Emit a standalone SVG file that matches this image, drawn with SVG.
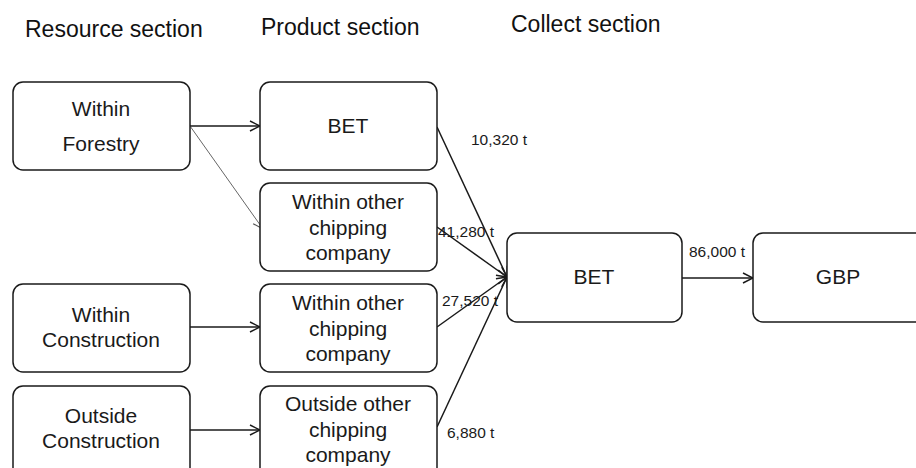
<svg xmlns="http://www.w3.org/2000/svg" width="916" height="468" viewBox="0 0 916 468">
<defs>
<style>
.box{fill:#fff;stroke:#1a1a1a;stroke-width:1.5}
.t{font-family:"Liberation Sans",Arial,sans-serif;font-size:21px;fill:#1a1a1a;text-anchor:middle}
.h{font-family:"Liberation Sans",Arial,sans-serif;font-size:23px;fill:#111}
.l{font-family:"Liberation Sans",Arial,sans-serif;font-size:15.5px;fill:#1a1a1a}
.c{stroke:#1a1a1a;stroke-width:1.5;fill:none}
.thin{stroke:#666;stroke-width:1;fill:none}
</style>
<marker id="ar" viewBox="0 0 12 12" refX="11" refY="6" markerWidth="12" markerHeight="12" markerUnits="userSpaceOnUse" orient="auto">
<path d="M1,1 L11,6 L1,11" fill="none" stroke="#1a1a1a" stroke-width="1.5"/>
</marker>
<marker id="ar2" viewBox="0 0 12 12" refX="11" refY="6" markerWidth="12" markerHeight="12" markerUnits="userSpaceOnUse" orient="auto">
<path d="M1,1 L11,6 L1,11" fill="none" stroke="#555" stroke-width="1.2"/>
</marker>
</defs>
<rect width="916" height="468" fill="#fff"/>
<g id="headers">
<text class="h" x="25" y="37">Resource section</text>
<text class="h" x="261" y="35">Product section</text>
<text class="h" x="511" y="32">Collect section</text>
</g>
<g id="connectors">
<line class="c" x1="190" y1="126" x2="260" y2="126" marker-end="url(#ar)"/>
<line class="thin" x1="190" y1="126" x2="263" y2="229" marker-end="url(#ar2)"/>
<line class="c" x1="190" y1="327" x2="260" y2="327" marker-end="url(#ar)"/>
<line class="c" x1="190" y1="430" x2="260" y2="430" marker-end="url(#ar)"/>
<line class="c" x1="437" y1="127" x2="507" y2="277" marker-end="url(#ar)"/>
<line class="c" x1="437" y1="227" x2="507" y2="277" marker-end="url(#ar)"/>
<line class="c" x1="437" y1="327" x2="507" y2="277" marker-end="url(#ar)"/>
<line class="c" x1="437" y1="427" x2="507" y2="277" marker-end="url(#ar)"/>
<line class="c" x1="682" y1="278" x2="753" y2="278" marker-end="url(#ar)"/>
<text class="l" x="471" y="145">10,320 t</text>
<text class="l" x="438" y="237">41,280 t</text>
<text class="l" x="442" y="306">27,520 t</text>
<text class="l" x="447" y="438">6,880 t</text>
<text class="l" x="689" y="257">86,000 t</text>
</g>
<g id="within-forestry">
<rect class="box" x="13" y="82" width="177" height="88" rx="10"/>
<text class="t" x="101" y="116">Within</text>
<text class="t" x="101" y="151">Forestry</text>
</g>
<g id="within-construction">
<rect class="box" x="13" y="284" width="177" height="88" rx="10"/>
<text class="t" x="101" y="322">Within</text>
<text class="t" x="101" y="347">Construction</text>
</g>
<g id="outside-construction">
<rect class="box" x="13" y="386" width="177" height="95" rx="10"/>
<text class="t" x="101" y="423">Outside</text>
<text class="t" x="101" y="448">Construction</text>
</g>
<g id="bet-product">
<rect class="box" x="260" y="82" width="177" height="88" rx="10"/>
<text class="t" x="348" y="133">BET</text>
</g>
<g id="within-other-1">
<rect class="box" x="260" y="183" width="177" height="88" rx="10"/>
<text class="t" x="348" y="209">Within other</text>
<text class="t" x="348" y="235">chipping</text>
<text class="t" x="348" y="260">company</text>
</g>
<g id="within-other-2">
<rect class="box" x="260" y="284" width="177" height="88" rx="10"/>
<text class="t" x="348" y="310">Within other</text>
<text class="t" x="348" y="336">chipping</text>
<text class="t" x="348" y="361">company</text>
</g>
<g id="outside-other">
<rect class="box" x="260" y="386" width="177" height="95" rx="10"/>
<text class="t" x="348" y="411">Outside other</text>
<text class="t" x="348" y="437">chipping</text>
<text class="t" x="348" y="462">company</text>
</g>
<g id="bet-collect">
<rect class="box" x="507" y="233" width="175" height="89" rx="10"/>
<text class="t" x="594" y="284">BET</text>
</g>
<g id="gbp">
<rect class="box" x="753" y="233" width="180" height="89" rx="10"/>
<text class="t" x="838" y="284">GBP</text>
</g>
</svg>
